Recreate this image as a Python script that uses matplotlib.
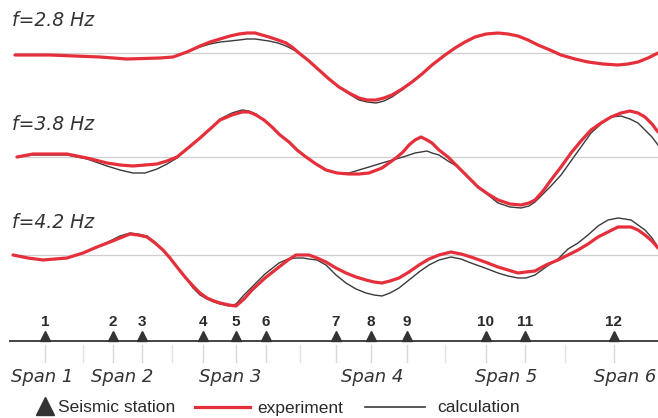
import matplotlib
matplotlib.use("Agg")
import matplotlib.pyplot as plt

# frequency labels and baseline levels (px from top)
freq_labels = ["f=2.8 Hz", "f=3.8 Hz", "f=4.2 Hz"]
baselines = [53, 157, 255]

# --- f = 2.8 Hz (values = deflection upward, px) ---
x1 = [15, 50, 100, 127, 160, 173, 187, 200, 210, 220, 230, 239, 247, 255, 262, 269,
      278, 286, 292, 299, 309, 319, 329, 339, 349, 359, 367, 376, 384, 392, 402,
      412, 422, 432, 445, 455, 465, 475, 486, 498, 508, 518, 528, 538, 550, 561,
      575, 588, 603, 618, 628, 638, 648, 658]
exp1 = [-2, -2, -4, -6, -5, -4, 1, 7, 11, 14, 17, 19, 20, 20, 18, 16,
        13, 10, 6, 0, -8, -17, -26, -34, -40, -45, -47, -47, -45, -42, -36,
        -29, -21, -12, -2, 5, 11, 16, 19, 20, 19, 17, 13, 8, 3, -2,
        -6, -9, -11, -12, -11, -9, -5, 0]
calc1 = [-2, -2, -4, -6, -5, -4, 1, 6, 9, 11, 12, 13, 14, 14, 13, 12,
         10, 7, 4, 0, -8, -17, -26, -34, -41, -47, -49, -50, -48, -44, -37,
         -29, -21, -12, -2, 5, 11, 16, 19, 20, 19, 17, 13, 8, 3, -2,
         -6, -9, -11, -12, -11, -9, -5, 0]

# --- f = 3.8 Hz ---
x2 = [17, 33, 50, 67, 87, 107, 120, 133, 145, 157, 167, 177, 188, 200, 210, 220,
      232, 242, 249, 256, 264, 272, 280, 289, 297, 306, 316, 326, 337, 349, 359,
      369, 382, 389, 396, 403, 409, 415, 421, 427, 432, 439, 448, 458, 468, 478,
      488, 498, 510, 521, 529, 535, 543, 551, 561, 571, 581, 591, 601, 611, 621,
      630, 638, 645, 652, 658]
exp2 = [0, 3, 3, 3, -1, -6, -8, -9, -8, -7, -4, 0, 9, 19, 28, 37,
        42, 45, 45, 42, 37, 30, 22, 15, 7, 0, -7, -13, -16, -17, -17,
        -16, -11, -6, -1, 5, 12, 17, 20, 17, 14, 7, 0, -10, -20, -30,
        -37, -43, -47, -48, -46, -43, -34, -23, -10, 4, 16, 27, 34, 40, 44,
        46, 44, 40, 33, 25]
calc2 = [0, 2, 2, 2, -2, -9, -13, -16, -16, -12, -7, -1, 9, 19, 28, 38,
         44, 47, 46, 43, 37, 30, 22, 15, 7, 0, -7, -13, -16, -16, -13,
         -10, -6, -4, -2, 0, 2, 4, 5, 6, 4, 2, -4, -10, -20, -30,
         -38, -46, -50, -51, -49, -45, -37, -29, -18, -4, 10, 24, 33, 40, 41,
         38, 34, 27, 20, 12]

# --- f = 4.2 Hz ---
x3 = [13, 28, 43, 55, 67, 83, 97, 110, 120, 130, 138, 147, 155, 163, 170, 177,
      185, 193, 200, 207, 214, 220, 229, 236, 244, 252, 265, 279, 288, 296, 303,
      309, 317, 326, 336, 346, 356, 366, 374, 382, 390, 399, 409, 419, 429, 439,
      451, 461, 471, 485, 498, 508, 518, 526, 535, 546, 558, 568, 578, 588, 598,
      608, 618, 625, 631, 638, 645, 652, 658]
exp3 = [0, -3, -5, -4, -3, 2, 8, 13, 17, 21, 20, 18, 12, 5, -3, -12,
        -22, -31, -38, -43, -46, -48, -50, -51, -44, -35, -23, -12, -5, 0, 0,
        0, -3, -7, -13, -18, -22, -25, -27, -28, -26, -23, -17, -10, -4, 0,
        3, 1, -2, -7, -12, -15, -18, -17, -16, -10, -5, 0, 5, 11, 18,
        23, 28, 28, 28, 25, 20, 14, 7]
calc3 = [0, -3, -5, -4, -3, 2, 8, 14, 19, 22, 21, 19, 13, 5, -3, -12,
         -22, -33, -40, -44, -47, -49, -51, -49, -40, -32, -19, -8, -4, -3, -3,
         -4, -5, -10, -20, -28, -34, -38, -40, -41, -38, -33, -25, -17, -10, -5,
         -2, -4, -8, -13, -18, -21, -23, -23, -20, -12, -4, 6, 12, 20, 29,
         35, 37, 36, 35, 30, 25, 17, 8]

xs = [x1, x2, x3]
exps = [exp1, exp2, exp3]
calcs = [calc1, calc2, calc3]

# seismic stations along the bridge (px)
station_ids = ["1", "2", "3", "4", "5", "6", "7", "8", "9", "10", "11", "12"]
station_x = [45, 113, 142, 203, 236, 266, 336, 371, 407, 486, 525, 614]
span_breaks = [83, 172, 300, 445, 565]
span_labels = ["Span 1", "Span 2", "Span 3", "Span 4", "Span 5", "Span 6"]
span_label_x = [42, 122, 230, 372, 506, 625]

red = "#e5303c"
axis_y = 341

fig = plt.figure(figsize=(6.58, 4.18), dpi=100)
ax = fig.add_axes([0, 0, 1, 1])
ax.set_xlim(0, 658)
ax.set_ylim(418, 0)
ax.axis("off")

for lab, base, x, e, c in zip(freq_labels, baselines, xs, exps, calcs):
    ax.plot([15, 658], [base, base], color="#cfcfcf", lw=0.9, zorder=1)
    ax.plot(x, [base - v for v in c], color="#3a3a3a", lw=1.0, zorder=2,
            solid_joinstyle="round")
    ax.plot(x, [base - v for v in e], color=red, lw=2.3, zorder=3,
            solid_capstyle="round", solid_joinstyle="round")
    ax.text(12, base - 33, lab, fontsize=13.5, style="italic", color="#333333",
            ha="left", va="center", family="DejaVu Sans")

# bridge axis, stations and spans
ax.plot([10, 658], [axis_y, axis_y], color="#444444", lw=1.4, zorder=2)
ax.plot(station_x, [axis_y - 5] * len(station_x), linestyle="none", marker="^",
        ms=7, color="#333333", zorder=3)
for sx, sid in zip(station_x, station_ids):
    ax.plot([sx, sx], [345, 362], color="#d8d8d8", lw=1, zorder=1)
    ax.text(sx, 322, sid, fontsize=11, fontweight="bold", color="#2a2a2a",
            ha="center", va="center", family="Liberation Sans")
for bx in span_breaks:
    ax.plot([bx, bx], [345, 362], color="#e2e2e2", lw=1, zorder=1)
for sx, sl in zip(span_label_x, span_labels):
    ax.text(sx, 377, sl, fontsize=13, style="italic", color="#333333",
            ha="center", va="center", family="DejaVu Sans")

# legend row
ax.plot([45], [406], linestyle="none", marker="^", ms=13, color="#333333")
ax.text(58, 408, "Seismic station", fontsize=12.5, color="#2a2a2a", ha="left",
        va="center", family="Liberation Sans")
ax.plot([195, 250], [407, 407], color=red, lw=2.3)
ax.text(257, 408, "experiment", fontsize=12.5, color="#2a2a2a", ha="left",
        va="center", family="Liberation Sans")
ax.plot([365, 425], [407, 407], color="#3a3a3a", lw=1.2)
ax.text(437, 408, "calculation", fontsize=12.5, color="#2a2a2a", ha="left",
        va="center", family="Liberation Sans")

fig.savefig("out.png", dpi=100)
